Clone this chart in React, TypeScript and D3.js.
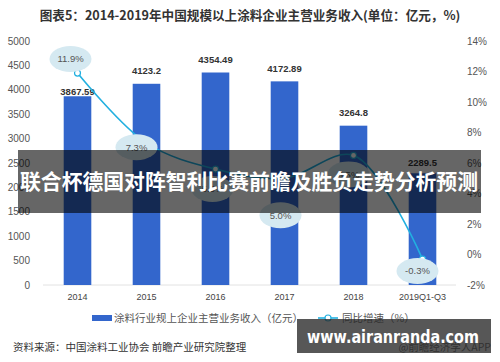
import React from "react";
import * as d3 from "d3";

const categories = ["2014", "2015", "2016", "2017", "2018", "2019Q1-Q3"];
const revenue = [3867.59, 4123.2, 4354.49, 4172.89, 3264.8, 2289.5];
const growth = [11.9, 7.3, 5.6, 5.0, 6.5, -0.3];
const leftTicks = [0, 500, 1000, 1500, 2000, 2500, 3000, 3500, 4000, 4500, 5000];
const rightTicks = [-2, 0, 2, 4, 6, 8, 10, 12, 14];

// label placement tweaks (styling only)
const bubbleOffset: [number, number][] = [
  [-7, -14],
  [-10, 4],
  [-3, 20],
  [-4, 37],
  [-5, 19],
  [-5, 12],
];
const barLabelGap = [5, 13, 13, 13, 13, 11];

const W = 500;
const H = 362;
const CN = "'Noto Sans CJK SC', 'Noto Sans', sans-serif";
const NUM = "'Liberation Sans', Arial, sans-serif";

export default function App() {
  const x = d3
    .scaleBand<string>()
    .domain(categories)
    .range([43, 457])
    .paddingInner(0.6)
    .paddingOuter(0.3);
  const yL = d3.scaleLinear().domain([0, 5000]).range([285, 41]);
  const yR = d3.scaleLinear().domain([-2, 14]).range([285, 41]);
  const cx = (c: string) => (x(c) as number) + x.bandwidth() / 2;

  const pts: [number, number][] = categories.map((c, i) => [cx(c), yR(growth[i])]);
  const line = d3.line().curve(d3.curveCatmullRom.alpha(0.5))(pts) || "";

  return (
    <svg
      width={W}
      height={H}
      style={{ position: "absolute", left: 0, top: 0, background: "#fff" }}
      viewBox={`0 0 ${W} ${H}`}
    >
      <rect x={0} y={0} width={W} height={H} fill="#fff" />
      <text
        x={250}
        y={20}
        textAnchor="middle"
        fontFamily={CN}
        fontWeight="bold"
        fontSize={12.6}
        fill="#333"
      >
        图表5：2014-2019年中国规模以上涂料企业主营业务收入(单位：亿元，%)
      </text>

      {/* left axis */}
      {leftTicks.map((t) => (
        <text
          key={"l" + t}
          x={30}
          y={yL(t)}
          dy="0.35em"
          textAnchor="end"
          fontFamily={NUM}
          fontSize={10}
          fill="#555"
        >
          {t}
        </text>
      ))}
      {/* right axis */}
      {rightTicks.map((t) => (
        <text
          key={"r" + t}
          x={467}
          y={yR(t)}
          dy="0.35em"
          textAnchor="start"
          fontFamily={NUM}
          fontSize={10}
          fill="#555"
        >
          {t + "%"}
        </text>
      ))}

      <line x1={43} x2={456} y1={yL(0)} y2={yL(0)} stroke="#e2e2e2" strokeWidth={1} />

      {/* bars */}
      {categories.map((c, i) => (
        <rect
          key={"b" + c}
          x={x(c)}
          y={yL(revenue[i])}
          width={x.bandwidth()}
          height={yL(0) - yL(revenue[i])}
          fill="#3366cc"
        />
      ))}
      {categories.map((c, i) => (
        <text
          key={"bl" + c}
          x={cx(c)}
          y={yL(revenue[i]) - barLabelGap[i]}
          dy="0.35em"
          textAnchor="middle"
          fontFamily={NUM}
          fontWeight="bold"
          fontSize={9.5}
          fill="#333"
        >
          {revenue[i]}
        </text>
      ))}

      {/* x labels */}
      {categories.map((c) => (
        <text
          key={"x" + c}
          x={cx(c)}
          y={297}
          dy="0.35em"
          textAnchor="middle"
          fontFamily={NUM}
          fontSize={9}
          fill="#444"
        >
          {c}
        </text>
      ))}

      {/* line */}
      <path d={line} fill="none" stroke="#22b0e0" strokeWidth={1.6} />
      {pts.map((p, i) => (
        <circle key={"p" + i} cx={p[0]} cy={p[1]} r={3} fill="#fff" stroke="#22b0e0" strokeWidth={1.2} />
      ))}
      {pts.map((p, i) => (
        <g key={"lb" + i} transform={`translate(${p[0] + bubbleOffset[i][0]},${p[1] + bubbleOffset[i][1]})`}>
          <ellipse rx={21} ry={13} fill="#d5e9f1" />
          <text
            dy="0.35em"
            textAnchor="middle"
            fontFamily={NUM}
            fontSize={9.5}
            fill="#555"
          >
            {growth[i].toFixed(1) + "%"}
          </text>
        </g>
      ))}

      {/* legend */}
      <rect x={92} y={315} width={20} height={6} fill="#3366cc" />
      <text x={114} y={318} dy="0.35em" fontFamily={CN} fontSize={10.5} fill="#555">
        涂料行业规上企业主营业务收入（亿元）
      </text>
      <line x1={318} x2={338} y1={318} y2={318} stroke="#22b0e0" strokeWidth={1.6} />
      <circle cx={328} cy={318} r={3} fill="#fff" stroke="#22b0e0" strokeWidth={1.2} />
      <text x={342} y={318} dy="0.35em" fontFamily={CN} fontSize={10.5} fill="#555">
        同比增速（%）
      </text>

      {/* source */}
      <text x={13} y={347} dy="0.35em" fontFamily={CN} fontSize={10.5} fill="#333">
        资料来源：中国涂料工业协会 前瞻产业研究院整理
      </text>
      <text x={491} y={347} dy="0.35em" textAnchor="end" fontFamily={CN} fontSize={10.5} fill="#555">
        @前瞻经济学人APP
      </text>

      {/* overlay banners */}
      <rect x={18} y={150} width={463} height={63} fill="rgba(0,0,0,0.6)" />
      <text
        x={249}
        y={182}
        dy="0.35em"
        textAnchor="middle"
        fontFamily={CN}
        fontWeight="bold"
        fontSize={21}
        fill="#fff"
        textLength={458}
        lengthAdjust="spacingAndGlyphs"
      >
        联合杯德国对阵智利比赛前瞻及胜负走势分析预测
      </text>
      <rect x={297} y={319} width={194} height={34} fill="rgba(40,40,40,0.78)" />
      <text
        x={393}
        y={337}
        dy="0.35em"
        textAnchor="middle"
        fontFamily="'DejaVu Sans', sans-serif"
        fontWeight="bold"
        fontSize={17}
        fill="#fff"
        textLength={172}
        lengthAdjust="spacingAndGlyphs"
      >
        www.airanranda.com
      </text>
    </svg>
  );
}
